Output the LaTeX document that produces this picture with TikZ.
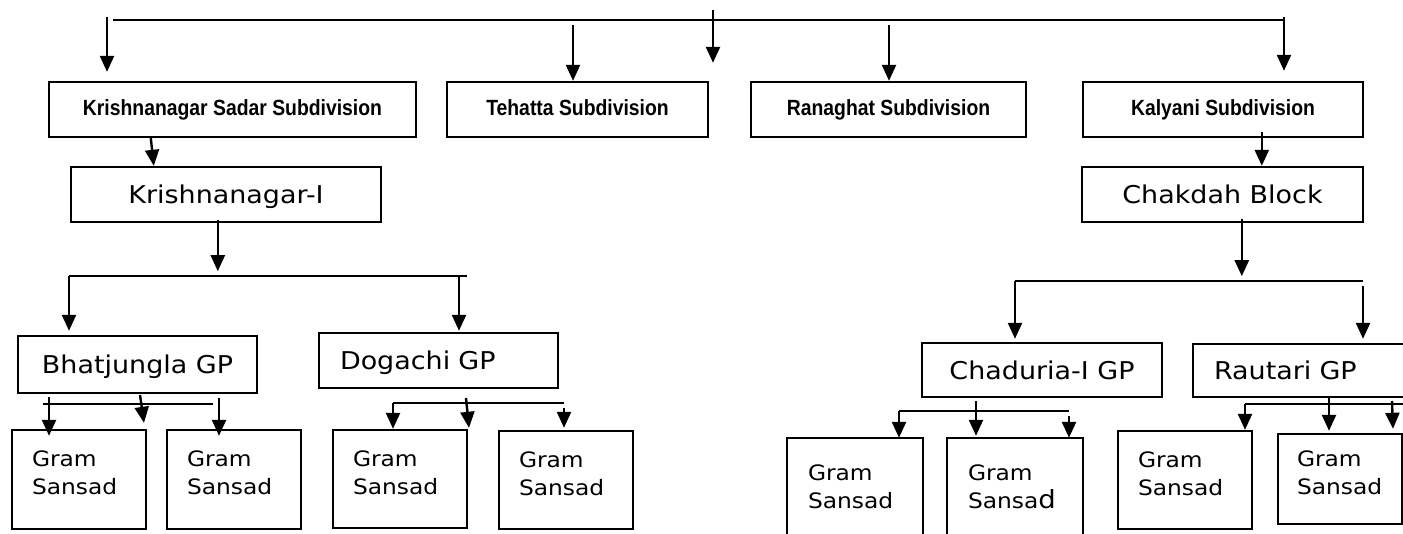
\documentclass[tikz,border=0pt]{standalone}
\usepackage{fontspec}
\setmainfont{DejaVu Sans}[FakeStretch=1.1]
\newfontfamily\arialfont{Liberation Sans}[FakeStretch=0.88]
\usetikzlibrary{arrows.meta,calc}
\begin{document}
\begin{tikzpicture}[x=1pt, y=-1pt, line width=2.4pt,
    arr/.style={-{Triangle[length=16pt,width=14pt]}},
    subbox/.style={draw, minimum height=55pt, text height=16pt, text depth=5pt,
      font=\arialfont\bfseries\fontsize{22}{26}\selectfont},
    blockbox/.style={draw, minimum height=55pt, text height=18pt, text depth=0pt,
      font=\fontsize{24.5}{30}\selectfont},
    gram/.style={draw, minimum height=99pt, inner xsep=20pt, text width=94pt,
      align=left, text height=16pt, text depth=42pt,
      font=\fontsize{21.2}{28}\selectfont}]
    \useasboundingbox (0,0) rectangle (1403,533);
    \clip (0,0) rectangle (1403,533);
    % Subdivisions
    \node[subbox, minimum width=367pt] (sadar) at (232.5,109.5) {Krishnanagar Sadar Subdivision};
    \node[subbox, minimum width=261pt] (tehatta) at (577.5,109.5) {Tehatta Subdivision};
    \node[subbox, minimum width=275pt] (ranaghat) at (888.5,109.5) {Ranaghat Subdivision};
    \node[subbox, minimum width=280pt] (kalyani) at (1223,109.5) {Kalyani Subdivision};
    % Blocks
    \node[blockbox, minimum width=310pt] (kI) at (226,194.5) {Krishnanagar-I};
    \node[blockbox, minimum width=281pt] (chakdah) at (1222.5,194.5) {Chakdah Block};
    % Gram Panchayats
    \node[blockbox, minimum width=239pt, minimum height=57pt] (bhat) at (137.5,364.5) {Bhatjungla GP};
    \node[blockbox, text width=197pt, inner xsep=21pt, align=left] (dogachi) at (438.5,360.5) {Dogachi GP};
    \node[blockbox, minimum width=240pt, minimum height=54pt] (chaduria) at (1042,370) {Chaduria-I GP};
    \node[blockbox, text width=180pt, inner xsep=21pt, align=left, minimum height=53pt] (rautari) at (1304,370.5) {Rautari GP};
    % Gram Sansads
    \node[gram] (g1) at (79,479.5) {Gram\\Sansad};
    \node[gram] (g2) at (234,479.5) {Gram\\Sansad};
    \node[gram, minimum height=98pt] (g3) at (400,479) {Gram\\Sansad};
    \node[gram, minimum height=98pt] (g4) at (566,480) {Gram\\Sansad};
    \node[gram, draw=none, minimum height=109pt] (g5) at (855,493.5) {Gram\\Sansad};
    \node[gram, draw=none, minimum height=109pt] (g6) at (1015,493.5) {Gram\\Sansa{\fontsize{25}{25}\selectfont d}};
    \node[gram, minimum height=98pt] (g7) at (1185,480) {Gram\\Sansad};
    \node[gram, text width=86pt, inner xsep=19pt, minimum height=90pt] (g8) at (1340,479) {Gram\\Sansad};
    \draw ($(g5.south west)+(0,20)$) -- (g5.north west) -- (g5.north east) -- ($(g5.south east)+(0,20)$);
    \draw ($(g6.south west)+(0,20)$) -- (g6.north west) -- (g6.north east) -- ($(g6.south east)+(0,20)$);
    % Top bar
    \coordinate (topL) at (113,20);
    \coordinate (topR) at (1284,20);
    \coordinate (a1) at (107,17);
    \coordinate (a2) at (573,25);
    \coordinate (a3) at (713,10);
    \coordinate (a4) at (889,25);
    \draw (topL) -- (topR);
    \draw[arr, shorten >=9pt] (a1) -- (a1 |- sadar.north);
    \draw[arr] (a2) -- (a2 |- tehatta.north);
    \draw[arr, shorten >=18pt] (a3) -- (a3 |- tehatta.north);
    \draw[arr] (a4) -- (a4 |- ranaghat.north);
    \draw[arr, shorten >=10pt] ([yshift=3pt]topR) -- (topR |- kalyani.north);
    % Subdivision to block
    \draw[arr] ($(sadar.south west)+(103,0)$) -- ($(kI.north west)+(84,0)$);
    \draw[arr] ($(kalyani.south west)+(180,-6)$) -- ($(chakdah.north west)+(181,0)$);
    % Krishnanagar-I bar
    \coordinate (kbarL) at (69,276);
    \coordinate (kbarR) at (467,276);
    \coordinate (kbarD) at (459,276);
    \draw[arr] ($(kI.south west)+(148,-3)$) -- ($(kI.south west)+(148,48)$);
    \draw (kbarL) -- (kbarR);
    \draw[arr, shorten >=4pt] (kbarL) -- (kbarL |- bhat.north);
    \draw[arr, shorten >=1pt] (kbarD) -- (kbarD |- dogachi.north);
    % Chakdah bar
    \coordinate (cbarL) at (1015,281);
    \coordinate (cbarR) at (1363,281);
    \draw[arr] ($(chakdah.south west)+(161,-4)$) -- ($(chakdah.south west)+(161,53)$);
    \draw (cbarL) -- (cbarR);
    \draw[arr, shorten >=3pt] (cbarL) -- (cbarL |- chaduria.north);
    \draw[arr, shorten >=4pt] ([yshift=-5pt]cbarR) -- (cbarR |- rautari.north);
    % Bhatjungla bar
    \coordinate (bbarL) at (43,404);
    \coordinate (bbarR) at (213,404);
    \coordinate (b1) at (49,397);
    \coordinate (b2) at (140,395);
    \coordinate (b3) at (219,398);
    \draw (bbarL) -- (bbarR);
    \draw[arr] (b1) -- ($(b1 |- g1.north)+(0,7)$);
    \draw[arr] (b2) -- ($(b2 |- g1.north)+(4,-6)$);
    \draw[arr] (b3) -- ($(b3 |- g2.north)+(0,7)$);
    % Dogachi bar
    \coordinate (dbarL) at (393,403);
    \coordinate (dbarR) at (564,403);
    \coordinate (d2) at (466,398);
    \draw (dbarL) -- (dbarR);
    \draw[arr] (dbarL) -- (dbarL |- g3.north);
    \draw[arr] (d2) -- ($(d2 |- g3.north)+(3,-1)$);
    \draw[arr] ([yshift=-5pt]dbarR) -- ($(dbarR |- g4.north)+(0,-2)$);
    % Chaduria bar
    \coordinate (chbarL) at (899,411);
    \coordinate (chbarR) at (1069,411);
    \coordinate (ch2) at (976,401);
    \draw (chbarL) -- (chbarR);
    \draw[arr] (chbarL) -- (chbarL |- g5.north);
    \draw[arr] (ch2) -- ($(ch2 |- g6.north)+(0,-2)$);
    \draw[arr] ([yshift=-5pt]chbarR) -- (chbarR |- g6.north);
    % Rautari bar
    \coordinate (rbarL) at (1245,404);
    \coordinate (rbarR) at (1410,404);
    \coordinate (r2) at (1329,398);
    \coordinate (r3) at (1392,401);
    \draw (rbarL) -- (rbarR);
    \draw[arr] (rbarL) -- (rbarL |- g7.north);
    \draw[arr] (r2) -- ($(r2 |- g8.north)+(0,-2)$);
    \draw[arr] (r3) -- ($(r3 |- g8.north)+(1,-4)$);
\end{tikzpicture}
\end{document}
